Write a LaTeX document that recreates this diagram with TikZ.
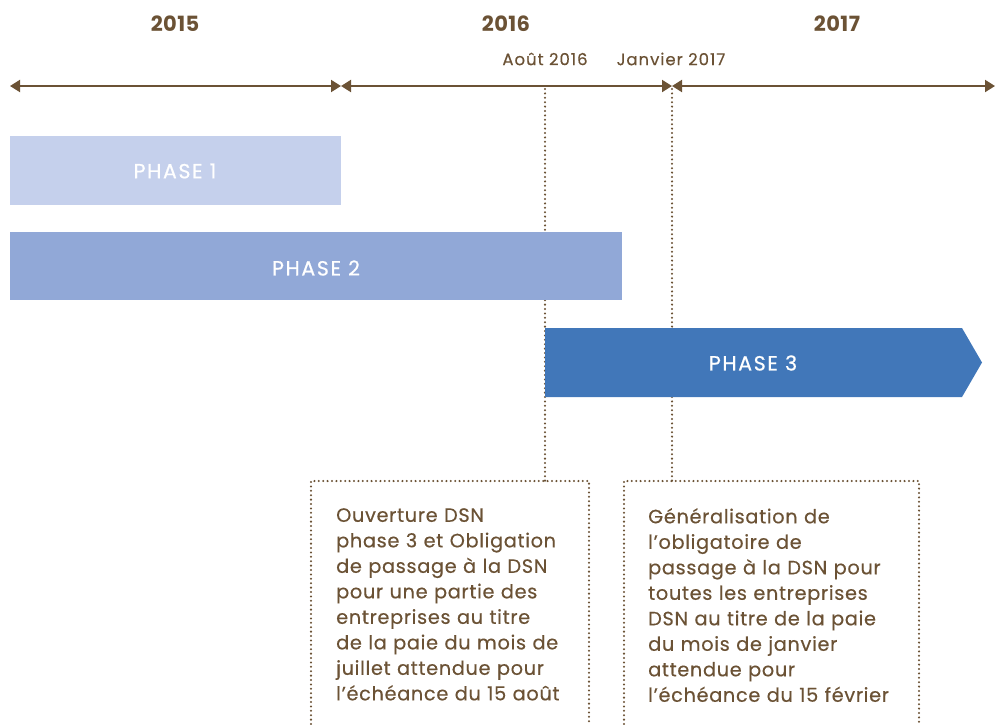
\documentclass[tikz,border=0pt]{standalone}
\usepackage{fontspec}
\setmainfont{Poppins}
\usetikzlibrary{arrows.meta}
\definecolor{brun}{HTML}{6B5235}
\definecolor{pone}{HTML}{C5D0EC}
\definecolor{ptwo}{HTML}{91A8D7}
\definecolor{pthree}{HTML}{4177B9}
\tikzset{
  axe/.style={draw=brun, line width=2pt, {Triangle[width=12pt,length=10pt]}-{Triangle[width=12pt,length=10pt]}},
  year/.style={text=brun, font=\fontsize{21}{23}\selectfont\bfseries\addfontfeature{LetterSpace=2}, inner sep=0pt},
  datelbl/.style={text=brun, font=\fontsize{16.5}{18}\selectfont\addfontfeature{LetterSpace=6,FakeBold=0.4}, inner sep=0pt},
  phaselbl/.style={text=white, font=\fontsize{20.5}{22}\selectfont\addfontfeature{LetterSpace=8,FakeBold=0.6}, inner sep=0pt},
  pointille/.style={draw=brun, line width=2.3pt, line cap=round, dash pattern=on 0pt off 4.4pt},
  boxtxt/.style={text=brun, font=\fontsize{19.3}{25.5}\selectfont\addfontfeature{LetterSpace=3.5,FakeBold=0.4}, align=left, anchor=north west, inner sep=0pt, text width=270pt}
}
\begin{document}
\begin{tikzpicture}[x=1pt,y=-1pt]
\useasboundingbox (0,0) rectangle (995,724);
% years
\node[year] (y15) at (175,24) {2015};
\node[year] (y16) at (506,24) {2016};
\node[year] (y17) at (837,24) {2017};
\node[datelbl] (aout) at (545,59) {Août 2016};
\node[datelbl] (janv) at (671,59) {Janvier 2017};
% axis points
\coordinate (a0) at (10,86);
\coordinate (a1) at (341,86);
\coordinate (a2) at (672,86);
\coordinate (a3) at (995,86);
\coordinate (m1) at (545,89);
\coordinate (m2) at (672,89);
% dotted connectors (under the phases)
\coordinate (b1top) at (545,481);
\coordinate (b2top) at (672,481);
\draw[pointille] (m1) -- (b1top);
\draw[pointille] (m2) -- (b2top);
% axis
\draw[axe] (a0) -- (a1);
\draw[axe] (a1) -- (a2);
\draw[axe] (a2) -- (a3);
% phases
\fill[pone] (10,136) rectangle (341,205);
\node[phaselbl] (p1) at (175,171) {PHASE 1};
\fill[ptwo] (10,232) rectangle (622,300);
\node[phaselbl] (p2) at (316,268) {PHASE 2};
\fill[pthree] (545,328) -- (962,328) -- (982,362.5) -- (962,397) -- (545,397) -- cycle;
\node[phaselbl] (p3) at (753,363) {PHASE 3};
% boxes
\draw[pointille] (311,724) -- (311,481) -- (589,481) -- (589,724);
\draw[pointille] (624,724) -- (624,481) -- (919,481) -- (919,724);
\node[boxtxt] (t1) at (336,508) {Ouverture DSN\\phase 3 et Obligation\\de passage à la DSN\\pour une partie des\\entreprises au titre\\de la paie du mois de\\juillet attendue pour\\l’échéance du 15 août};
\node[boxtxt] (t2) at (648,508) {Généralisation de\\l’obligatoire de\\passage à la DSN pour\\toutes les entreprises\\DSN au titre de la paie\\du mois de janvier\\attendue pour\\l’échéance du 15 février};
\end{tikzpicture}
\end{document}
